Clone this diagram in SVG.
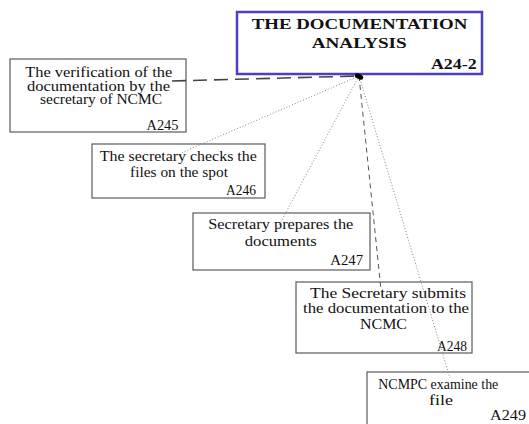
<svg xmlns="http://www.w3.org/2000/svg" width="529" height="424" viewBox="0 0 529 424">
<style>
.box{fill:#fff;stroke:#5a5a5a;stroke-width:1.2}
.t{font-family:"Liberation Serif","Times New Roman",serif;font-size:14px;fill:#111;text-anchor:middle}
.tt{font-family:"Liberation Serif","Times New Roman",serif;font-size:15.5px;font-weight:bold;fill:#111;text-anchor:middle}
.dot{fill:none;stroke:#777;stroke-width:0.9;stroke-dasharray:1 2}
.dash{fill:none;stroke:#555;stroke-width:1;stroke-dasharray:5 4}
.ldash{fill:none;stroke:#444;stroke-width:1.6;stroke-dasharray:14 7}
</style>
<rect width="529" height="424" fill="#fff"/>
<g id="A245">
<rect class="box" x="10" y="59" width="176" height="73"/>
<text class="t" x="98.7" y="77" textLength="147" lengthAdjust="spacingAndGlyphs">The verification of the</text>
<text class="t" x="98.5" y="90.7" textLength="143" lengthAdjust="spacingAndGlyphs">documentation by the</text>
<text class="t" x="101" y="104.3" textLength="122" lengthAdjust="spacingAndGlyphs">secretary of NCMC</text>
<text class="t" x="162.5" y="129.5" textLength="32" lengthAdjust="spacingAndGlyphs">A245</text>
</g>
<g id="A246">
<rect class="box" x="92" y="144" width="173" height="54"/>
<text class="t" x="178.3" y="161" textLength="157" lengthAdjust="spacingAndGlyphs">The secretary checks the</text>
<text class="t" x="179" y="176.7" textLength="98" lengthAdjust="spacingAndGlyphs">files on the spot</text>
<text class="t" x="241" y="194.5" textLength="30" lengthAdjust="spacingAndGlyphs">A246</text>
</g>
<g id="A247">
<rect class="box" x="193" y="213" width="177" height="57"/>
<text class="t" x="280.8" y="229" textLength="145" lengthAdjust="spacingAndGlyphs">Secretary prepares the</text>
<text class="t" x="280.8" y="246" textLength="72" lengthAdjust="spacingAndGlyphs">documents</text>
<text class="t" x="346.7" y="265" textLength="33" lengthAdjust="spacingAndGlyphs">A247</text>
</g>
<g id="A248">
<rect class="box" x="296" y="282" width="176" height="71"/>
<text class="t" x="388" y="298" textLength="156" lengthAdjust="spacingAndGlyphs">The Secretary submits</text>
<text class="t" x="386" y="313" textLength="166" lengthAdjust="spacingAndGlyphs">the documentation to the</text>
<text class="t" x="383.5" y="329" textLength="47" lengthAdjust="spacingAndGlyphs">NCMC</text>
<text class="t" x="452" y="351" textLength="30" lengthAdjust="spacingAndGlyphs">A248</text>
</g>
<g id="A249">
<rect class="box" x="367" y="372" width="172" height="62"/>
<text class="t" x="438.3" y="389" textLength="120" lengthAdjust="spacingAndGlyphs">NCMPC examine the</text>
<text class="t" x="441" y="405" textLength="24" lengthAdjust="spacingAndGlyphs">file</text>
<text class="t" x="508" y="420" textLength="36" lengthAdjust="spacingAndGlyphs">A249</text>
</g>
<g id="connectors">
<path class="ldash" d="M172,81 L359,76"/>
<path class="dot" d="M359,76 L181,153"/>
<path class="dot" d="M359,76 L276,231"/>
<path class="dash" d="M359,76 L381,290"/>
<path class="dot" d="M359,76 L450,378"/>
</g>
<g id="A24-2">
<rect x="237" y="12" width="245" height="62" fill="#fff" stroke="#4b3fc4" stroke-width="2.5"/>
<text class="tt" x="359.5" y="29.3" textLength="215.7" lengthAdjust="spacingAndGlyphs">THE DOCUMENTATION</text>
<text class="tt" x="359.2" y="47.7" textLength="95" lengthAdjust="spacingAndGlyphs">ANALYSIS</text>
<text class="tt" x="453.8" y="69.3" textLength="45.7" lengthAdjust="spacingAndGlyphs">A24-2</text>
</g>
<ellipse cx="359" cy="76.5" rx="4.5" ry="2.6" transform="rotate(25 359 76.5)" fill="#000"/>
</svg>
